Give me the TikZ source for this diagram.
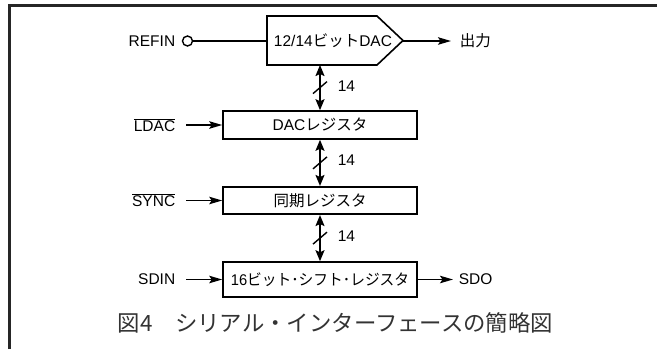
\documentclass[tikz,border=0pt]{standalone}
\usepackage{fontspec}
\setmainfont{Liberation Sans}
\newfontfamily\jp{Noto Sans CJK JP}
\usetikzlibrary{arrows.meta,calc}
\begin{document}
\begin{tikzpicture}[x=1pt,y=-1pt,line width=1.6pt,
  lbl/.style={font=\fontsize{15.5}{17}\selectfont, inner sep=0pt},
  regbox/.style={draw, line width=1.6pt, minimum width=194pt, minimum height=28pt, inner sep=0pt, font=\fontsize{15.5}{17}\selectfont},
  harrow/.style={-{Stealth[length=13pt,width=7.5pt,inset=2.5pt]}},
  bus/.style={{Stealth[length=11pt,width=9pt,inset=2pt]}-{Stealth[length=11pt,width=9pt,inset=2pt]}},
  slash/.style={line width=1.4pt}]
\useasboundingbox (0,0) rectangle (657,349);
% frame
\draw[line width=3pt, black!85] (9.5,349) -- (9.5,5.5) -- (657,5.5);
% DAC block
\draw (267,16) -- (377,16) -- (403,40.5) -- (377,65) -- (267,65) -- cycle;
\coordinate (dacL) at (267,41);
\coordinate (dacR) at (403,41);
\coordinate (dacB) at (320,65);
\node[lbl] (dac) at (333,40.5) {12/14{\jp ビット}DAC};
% REFIN
\node[lbl, anchor=east] (refin) at (176,41) {REFIN};
\node[circle, draw, line width=1.4pt, minimum size=10pt, inner sep=0pt] (refc) at (187.5,41) {};
\draw (refc) -- (dacL);
% output
\node[lbl, anchor=west] (out) at (459,41) {\jp 出力};
\draw[harrow] (dacR) -- ([xshift=-8pt]out.west);
% registers
\node[regbox] (dreg) at (320,125) {DAC{\jp レジスタ}};
\node[regbox, minimum height=27.5pt] (sreg) at (320,200.5) {\jp 同期レジスタ};
\node[regbox, minimum height=35pt] (shreg) at (320,279.5) {\scalebox{0.95}[1]{16{\jp ビット･シフト･レジスタ}}};
% buses
\draw[bus] (dacB) -- (dreg.north);
\draw[bus] (dreg.south) -- (sreg.north);
\draw[bus] (sreg.south) -- (shreg.north);
\draw[slash] ($(dacB)!0.5!(dreg.north)+(-7,6)$) -- ++(14,-12);
\draw[slash] ($(dreg.south)!0.5!(sreg.north)+(-7,6)$) -- ++(14,-12);
\draw[slash] ($(sreg.south)!0.5!(shreg.north)+(-7,6)$) -- ++(14,-12);
\node[lbl, anchor=west] (b1) at (337,86) {14};
\node[lbl, anchor=west] (b2) at (337,160) {14};
\node[lbl, anchor=west] (b3) at (337,236) {14};
% inputs
\node[lbl, anchor=east] (ldac) at (176,125) {$\overline{\hbox{LDAC}}$};
\draw[harrow] ([xshift=10pt]ldac.east) -- (dreg.west);
\node[lbl, anchor=east] (sync) at (176,200.5) {$\overline{\hbox{SYNC}}$};
\draw[harrow] ([xshift=10pt]sync.east) -- (sreg.west);
\node[lbl, anchor=east] (sdin) at (176,279.5) {SDIN};
\draw[harrow] ([xshift=10pt]sdin.east) -- (shreg.west);
\node[lbl, anchor=west] (sdo) at (458,279.5) {SDO};
\draw[harrow] (shreg.east) -- ([xshift=-5pt]sdo.west);
% caption
\node[anchor=west, inner sep=0pt, text=black!80, font=\jp\fontsize{22.4}{25}\selectfont] (cap) at (117,322.5) {図4　シリアル・インターフェースの簡略図};
\end{tikzpicture}
\end{document}
